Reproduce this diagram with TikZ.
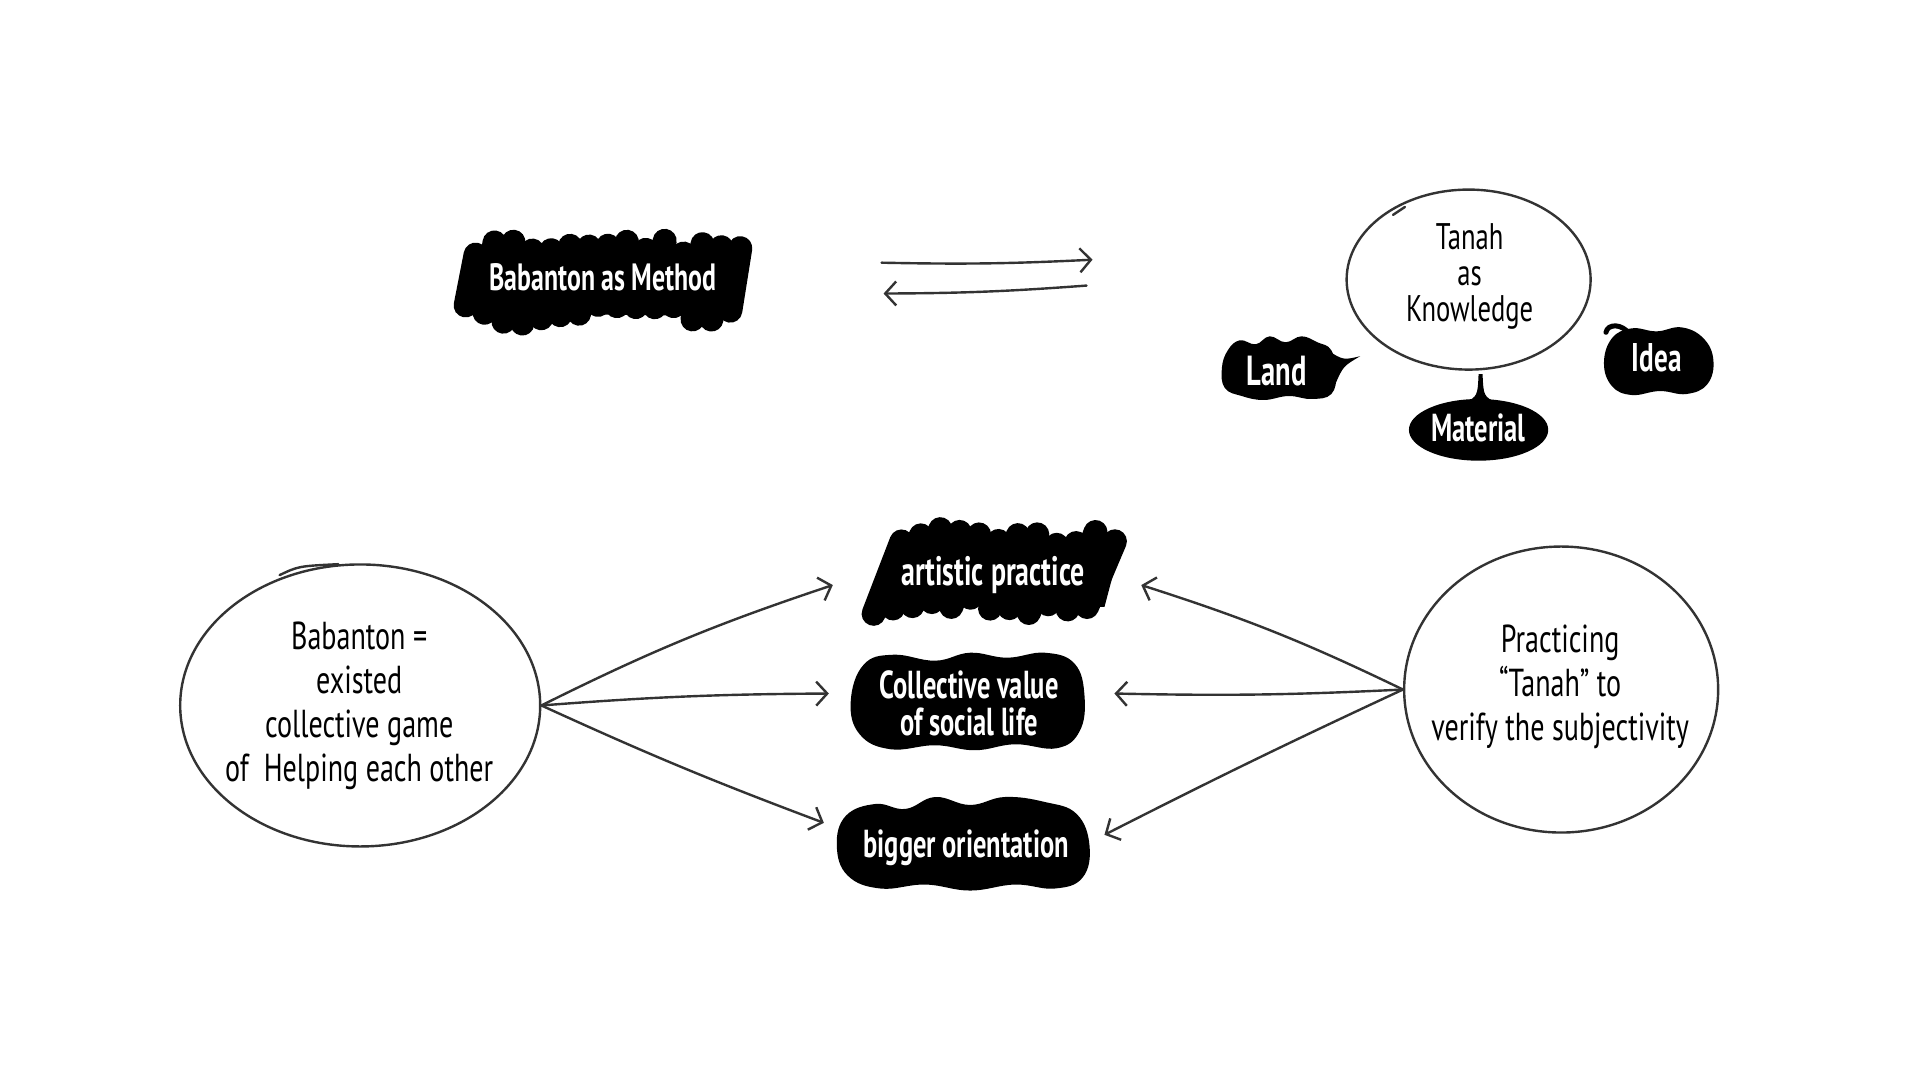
\documentclass[tikz,border=0pt]{standalone}
\usepackage{fontspec}
\usetikzlibrary{shapes.geometric,arrows.meta,calc}
\newfontfamily\hand[FakeStretch=0.72]{PT Sans}
\newfontfamily\handb[FakeStretch=0.68]{PT Sans Bold}
\definecolor{ink}{HTML}{333333}
\begin{document}
\begin{tikzpicture}[x=0.995pt,y=-0.995pt]
\tikzset{
 circline/.style={draw=ink, line width=2.4pt},
 circ/.style={ellipse, circline, inner sep=0pt},
 arr/.style={draw=ink, line width=2.4pt, line cap=round, -{Straight Barb[length=11pt,width=24pt]}},
 wtext/.style={text=white, align=center, inner sep=0pt},
 btext/.style={text=black, font=\hand\fontsize{39}{44}\selectfont, align=center, inner sep=0pt},
 scrib/.style={line width=24pt, line cap=round, draw=black},
 blob/.style={fill=black},
}
\fill[white] (0,0) rectangle (1929.65,1085.43);
\useasboundingbox (0,0) rectangle (1929.65,1085.43);

% ---------- Babanton as Method scribble
\fill[black] (468,250) -- (752,254) -- (740,318) -- (458,314) -- cycle;
\pgfmathsetseed{7}
\foreach \i in {0,...,14}{
  \pgfmathsetmacro\xt{478+\i*19}
  \pgfmathsetmacro\yt{241+rnd*17}
  \pgfmathsetmacro\yb{304+rnd*22}
  \draw[scrib] (\xt,\yt) -- (\xt-10,\yb);
}
\node[wtext, font=\handb\fontsize{38}{40}\selectfont] (meth) at (606,279) {Babanton as Method};

% ---------- Tanah circle
\node[circ, minimum width=244pt, minimum height=180pt] (T) at (1476,281) {};
\draw[circline, line cap=round] (1400,216) .. controls (1405,212) .. (1412,208);
\node[btext, font=\hand\fontsize{37}{36}\selectfont] (Tt) at (1477,278) {Tanah\\as\\Knowledge};

% ---------- top two-way arrows
\coordinate (a1s) at (886,264);
\coordinate (a1e) at (1098,261);
\coordinate (a2s) at (1092,287);
\coordinate (a2e) at (888,295);
\draw[arr] (a1s) to[bend right=2] (a1e);
\draw[arr] (a2s) to[bend left=2] (a2e);

% ---------- Land
\fill[blob] plot[smooth cycle, tension=0.7] coordinates {(1234,352) (1246,342) (1262,346) (1276,338) (1292,344) (1308,338) (1324,344) (1338,352) (1343,375) (1338,396) (1318,401) (1295,398) (1270,402) (1248,398) (1231,390) (1228,370)};
\fill[blob] (1334,352) .. controls (1350,362) .. (1367,358) .. controls (1350,368) .. (1342,386) -- cycle;
\node[wtext, font=\handb\fontsize{42}{44}\selectfont] (land) at (1283,373) {Land};

% ---------- Material
\fill[blob] (1486,432) ellipse [x radius=70, y radius=31];
\fill[blob] (1472,405) .. controls (1485,398) .. (1486,376) -- (1490,376) .. controls (1491,398) .. (1504,405) -- cycle;
\node[wtext, font=\handb\fontsize{39}{40}\selectfont] (mat) at (1486,430) {Material};

% ---------- Idea
\fill[blob] plot[smooth cycle, tension=0.7] coordinates {(1620,340) (1640,330) (1665,333) (1690,329) (1712,340) (1722,362) (1716,386) (1695,396) (1668,393) (1640,397) (1620,388) (1612,365)};
\draw[line width=5pt, line cap=round] (1614,334) .. controls (1616,325) and (1630,325) .. (1638,336);
\node[wtext, font=\handb\fontsize{40}{42}\selectfont] (idea) at (1665,360) {Idea};

% ---------- artistic practice scribble
\fill[black] (905,540) -- (1128,542) -- (1110,610) -- (878,608) -- cycle;
\pgfmathsetseed{11}
\foreach \i in {0,...,11}{
  \pgfmathsetmacro\xt{906+\i*19.5}
  \pgfmathsetmacro\yt{531+rnd*20}
  \pgfmathsetmacro\yb{597+rnd*21}
  \draw[scrib] (\xt,\yt) -- (\xt-28,\yb);
}
\node[wtext, font=\handb\fontsize{41}{42}\selectfont] (art) at (998,578) {artistic practice};

% ---------- Collective value blob
\fill[blob] plot[smooth cycle, tension=0.7] coordinates {(868,668) (898,658) (940,664) (975,656) (1012,661) (1050,656) (1080,667) (1090,700) (1085,735) (1062,752) (1020,748) (980,754) (940,749) (895,753) (864,738) (855,705)};
\node[wtext, font=\handb\fontsize{39}{37}\selectfont] (col) at (974,707) {Collective value\\of social life};

% ---------- bigger orientation blob
\fill[blob] plot[smooth cycle, tension=0.7] coordinates {(850,820) (880,808) (910,813) (940,801) (975,809) (1010,801) (1050,806) (1082,818) (1095,850) (1088,882) (1060,893) (1020,889) (975,895) (930,889) (885,893) (852,880) (841,850)};
\node[wtext, font=\handb\fontsize{39}{40}\selectfont] (big) at (971,852) {bigger orientation};

% ---------- left circle
\node[circ, minimum width=360pt, minimum height=282pt] (L) at (362,709) {};
\draw[circline, line cap=round] (281,578) .. controls (300,569) .. (340,567);
\node[btext] (Lt) at (361,709) {Babanton =\\existed\\collective game\\of \ Helping each other};

% ---------- right circle
\node[circ, minimum width=314pt, minimum height=286pt] (R) at (1569,693) {};
\node[btext] (Rt) at (1568,690) {Practicing\\“Tanah” to\\verify the subjectivity};

% ---------- fan arrows
\coordinate (tArtL) at (837,588);
\coordinate (tColL) at (833,697);
\coordinate (tBigL) at (828,827);
\coordinate (tArtR) at (1147,588);
\coordinate (tColR) at (1120,697);
\coordinate (tBigR) at (1110,839);
\draw[arr] (L.east) to[bend left=4] (tArtL);
\draw[arr] (L.east) to[bend left=2] (tColL);
\draw[arr] (L.east) to[bend right=2] (tBigL);
\draw[arr] (R.west) to[bend right=4] (tArtR);
\draw[arr] (R.west) to[bend left=2] (tColR);
\draw[arr] (R.west) to[bend right=1] (tBigR);
\end{tikzpicture}
\end{document}
